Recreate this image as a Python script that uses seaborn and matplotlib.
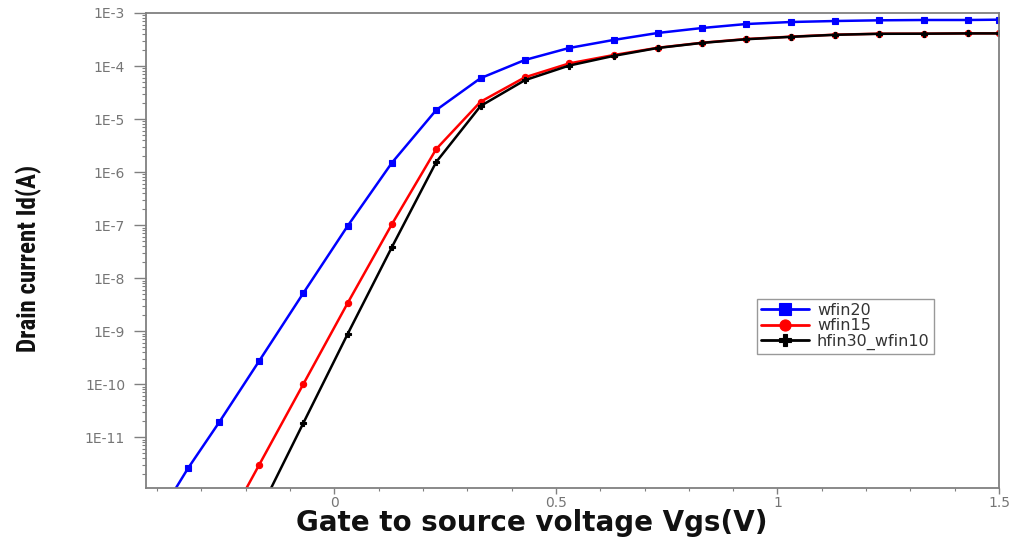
import numpy as np
import pandas as pd
import matplotlib
matplotlib.use("Agg")
import matplotlib.pyplot as plt
import matplotlib.ticker as mticker
from matplotlib import font_manager
import seaborn as sns

# Vgs sweep points (V)
vgs_wfin20 = [-0.37, -0.33, -0.26, -0.17, -0.07, 0.03, 0.13, 0.23, 0.33, 0.43, 0.53,
              0.63, 0.73, 0.83, 0.93, 1.03, 1.13, 1.23, 1.33, 1.43, 1.5]
id_wfin20 = [7.4e-13, 2.6e-12, 1.9e-11, 2.7e-10, 5.2e-9, 9.6e-8, 1.5e-6, 1.48e-5, 5.9e-5,
             1.30e-4, 2.19e-4, 3.10e-4, 4.20e-4, 5.21e-4, 6.20e-4, 6.76e-4, 7.06e-4,
             7.28e-4, 7.38e-4, 7.38e-4, 7.48e-4]

vgs_wfin15 = [-0.27, -0.17, -0.07, 0.03, 0.13, 0.23, 0.33, 0.43, 0.53, 0.63, 0.73,
              0.83, 0.93, 1.03, 1.13, 1.23, 1.33, 1.43, 1.5]
id_wfin15 = [8.7e-14, 2.96e-12, 1.0e-10, 3.37e-9, 1.04e-7, 2.72e-6, 2.12e-5, 6.12e-5,
             1.12e-4, 1.61e-4, 2.21e-4, 2.75e-4, 3.23e-4, 3.58e-4, 3.90e-4, 4.07e-4,
             4.07e-4, 4.14e-4, 4.14e-4]

vgs_hfin30 = [-0.17, -0.07, 0.03, 0.13, 0.23, 0.33, 0.43, 0.53, 0.63, 0.73,
              0.83, 0.93, 1.03, 1.13, 1.23, 1.33, 1.43, 1.5]
id_hfin30 = [3.8e-13, 1.84e-11, 8.8e-10, 3.85e-8, 1.55e-6, 1.76e-5, 5.4e-5, 1.02e-4,
             1.55e-4, 2.19e-4, 2.73e-4, 3.20e-4, 3.55e-4, 3.88e-4, 4.05e-4, 4.07e-4,
             4.12e-4, 4.12e-4]

labels = ["wfin20", "wfin15", "hfin30_wfin10"]
y_decades = list(range(-11, -2))   # 1E-11 ... 1E-3
x_major = [0, 0.5, 1, 1.5]


def pick_narrow_font():
    """Find a condensed family for the y label, fall back to DejaVu."""
    names = {f.name for f in font_manager.fontManager.ttflist}
    for n in ["Liberation Sans Narrow", "Roboto Condensed", "DejaVu Sans Condensed",
              "Open Sans Condensed"]:
        if n in names:
            return n
    return "DejaVu Sans"


def main():
    sns.set_style("white")
    fig = plt.figure(figsize=(10.15, 5.37), dpi=100)
    ax = fig.add_axes([0.1438, 0.0912, 0.8405, 0.8846])

    series = [
        (vgs_wfin20, id_wfin20, labels[0], "#0000ff", "s", 4.5),
        (vgs_wfin15, id_wfin15, labels[1], "#ff0000", "o", 4.5),
        (vgs_hfin30, id_hfin30, labels[2], "#000000", "P", 4),
    ]
    for x, y, name, color, marker, ms in series:
        df = pd.DataFrame({"Vgs": x, "Id": y})
        sns.lineplot(data=df, x="Vgs", y="Id", ax=ax, color=color, marker=marker,
                     markersize=ms, markeredgecolor=color, markeredgewidth=0.8,
                     linewidth=1.8, label=name)

    ax.set_yscale("log")
    ax.set_xlim(-0.425, 1.5)
    ax.set_ylim(1.1e-12, 1e-3)

    ax.yaxis.set_major_locator(mticker.FixedLocator([10.0 ** e for e in y_decades]))
    ax.yaxis.set_minor_locator(mticker.FixedLocator(
        [m * 10.0 ** e for e in range(-12, -3) for m in range(2, 10)]))
    ax.yaxis.set_major_formatter(mticker.FuncFormatter(
        lambda v, p: "1E%d" % int(round(np.log10(v)))))
    ax.yaxis.set_minor_formatter(mticker.NullFormatter())

    ax.xaxis.set_major_locator(mticker.FixedLocator(x_major))
    ax.xaxis.set_minor_locator(mticker.MultipleLocator(0.1))
    ax.xaxis.set_major_formatter(mticker.FuncFormatter(lambda v, p: "%g" % v))

    grey = "#808080"
    for s in ax.spines.values():
        s.set_color(grey)
        s.set_linewidth(1.3)
    ax.tick_params(left=True, bottom=True, which="both")
    ax.tick_params(axis="y", which="major", direction="out", length=9, width=1,
                   color=grey, labelcolor="#757575", labelsize=10, pad=6)
    ax.tick_params(axis="y", which="minor", direction="out", length=3, width=0.8,
                   color=grey)
    ax.tick_params(axis="x", which="major", direction="out", length=4, width=1,
                   color=grey, labelcolor="#757575", labelsize=10, pad=2)
    ax.tick_params(axis="x", which="minor", direction="out", length=2.5, width=0.8,
                   color=grey)

    ax.set_xlabel("Gate to source voltage Vgs(V)", fontsize=20, fontweight="bold",
                  family=["DejaVu Sans"], color="#111111")
    ax.xaxis.set_label_coords(0.4525, -0.045)
    ax.set_ylabel("Drain current Id(A)", fontsize=18, fontweight="bold",
                  fontstretch="condensed",
                  family=[pick_narrow_font(), "DejaVu Sans"], color="#111111")
    ax.yaxis.set_label_coords(-0.122, 0.484)

    leg = ax.legend(loc="upper left", bbox_to_anchor=(0.707, 0.415), frameon=True,
                    fancybox=False, fontsize=11.5, handlelength=3.0, borderpad=0.25,
                    labelspacing=0.02, handletextpad=0.5, edgecolor=grey)
    leg.get_frame().set_linewidth(1.0)
    for t in leg.get_texts():
        t.set_color("#333333")
    for h in leg.legend_handles:
        h.set_markersize(8)
        h.set_linewidth(2)

    fig.savefig("out.png", dpi=100)


if __name__ == "__main__":
    main()
